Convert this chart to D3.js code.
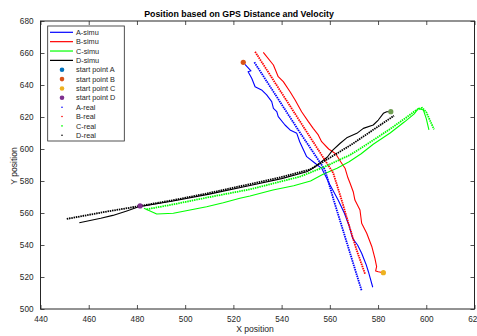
<!DOCTYPE html>
<html>
<head>
<meta charset="utf-8">
<script src="https://cdn.jsdelivr.net/npm/d3@7"></script>
<style>
  body { margin: 0; background: #fff; }
  svg { display: block; font-family: "Liberation Sans", Arial, Helvetica, sans-serif; }
</style>
</head>
<body>
<svg id="chart" width="477" height="336"></svg>
<script>
// simulated tracks (solid lines)
var aSimu = [[524.8,652.9],[527.3,648.9],[526.1,648.3],[527.6,644.2],[529,638.9],[531.7,636.9],[533.8,633.8],[535.9,629.6],[536.6,625.4],[538,623.3],[538.6,620.2],[541.4,615],[543.5,611.9],[546.3,609.8],[547.5,604.5],[550.4,595.2],[553.9,591.1],[556.6,587.9],[558.7,581.7],[560.1,577.5],[563.5,568],[566,560],[568,552],[569.5,544],[571.5,540],[573.2,534.8],[575,528],[576,523.3],[577.8,513.6]];
var bSimu = [[532.4,660.4],[536.6,652.5],[538.6,645.2],[540.7,642.1],[543.5,635.8],[545.6,630.6],[548.3,623.3],[551.1,617.1],[553.1,612.9],[555.2,608.8],[556.6,604.6],[559.5,600],[562.4,597],[564.5,592],[566.3,588],[567.5,582],[568.4,578.6],[569.7,573.3],[570.4,568.1],[572.5,561.9],[573.2,553.6],[575.3,547.3],[577.4,539.1],[578.7,531.7],[579.4,526.5],[579,523.8],[580.1,523.3],[582.2,522.7]];
var cSimu = [[482.9,562.9],[488.2,559.4],[495.1,559.8],[502,561.9],[508.9,563.9],[515.8,566.4],[522.7,569.2],[526.9,570.6],[536.4,574.4],[545,577],[552,580],[557,584],[563,588],[568,592],[573,597],[578,603],[585,610],[591,617],[595,622],[596.7,625.4],[598.8,624.4],[600,619],[601.1,611.9]];
var dSimu = [[456.1,553.9],[465,556.7],[470,558.5],[475.8,561.3],[481,564],[495,567.5],[510,571.8],[526.9,577.2],[540,581.5],[550.4,585.8],[553,588],[556,591.5],[559,595],[561,599],[564.3,603.6],[567,607],[571.2,609.8],[573.9,612.9],[578,615],[580.1,618.1],[582.2,622.3],[583.6,623.3],[585.3,623.3]];

// measured tracks (dotted)
var aReal = [[528.7,654.2],[546.9,611.9],[558,586.9],[561.6,568.1],[573.2,511.4]];
var bReal = [[529,660.8],[549.9,611.9],[561.4,585],[564.9,568.1],[567.7,553.6],[571.1,536.9],[574.6,521.9]];
var cReal = [[484,562.3],[495.1,565.4],[508.9,569.6],[526.9,574.8],[547.6,582.7],[558,589],[568.4,596.3],[573.9,601.5],[585,612.5],[592,620],[596,624.5],[598.3,625.8],[600,623],[601.5,618],[603.2,612.3]];
var dReal = [[450.9,556.3],[466,560.5],[481.3,564.4],[495,568],[510,572.5],[526.9,578.1],[540,582.5],[551.8,587.2],[560,594.5],[569.1,602.9],[586.6,620.8]];

// start point markers as they appear in the plot
var startPoints = [
  {x: 585.3, y: 623.3, color: "#6f9e52"},
  {x: 524.1, y: 654.2, color: "#D95319"},
  {x: 582.2, y: 522.7, color: "#EDB120"},
  {x: 481.3, y: 564.4, color: "#7E2F8E"}
];

var xTicks = [440, 460, 480, 500, 520, 540, 560, 580, 600, 620];
var yTicks = [500, 520, 540, 560, 580, 600, 620, 640, 660, 680];

var legendItems = [
  {label: "A-simu", type: "line", color: "#0000ff"},
  {label: "B-simu", type: "line", color: "#ff0000"},
  {label: "C-simu", type: "line", color: "#00ff00"},
  {label: "D-simu", type: "line", color: "#000000"},
  {label: "start point A", type: "point", color: "#0072BD"},
  {label: "start point B", type: "point", color: "#D95319"},
  {label: "start point C", type: "point", color: "#EDB120"},
  {label: "start point D", type: "point", color: "#7E2F8E"},
  {label: "A-real", type: "dot", color: "#0000ff"},
  {label: "B-real", type: "dot", color: "#ff0000"},
  {label: "C-real", type: "dot", color: "#00ff00"},
  {label: "D-real", type: "dot", color: "#000000"}
];

(function () {
  "use strict";
  var svg = d3.select("#chart");
  var left = 40.5, right = 474.5, top = 21, bottom = 309;
  var axisColor = "#262626";

  var x = d3.scaleLinear().domain([440, 620]).range([left, right]);
  var y = d3.scaleLinear().domain([500, 680]).range([bottom, top]);

  svg.append("defs").append("clipPath").attr("id", "plotclip")
    .append("rect").attr("x", left).attr("y", top)
    .attr("width", right - left).attr("height", bottom - top);

  var line = d3.line().x(function (d) { return x(d[0]); }).y(function (d) { return y(d[1]); });
  var plot = svg.append("g").attr("clip-path", "url(#plotclip)");

  // simu lines
  [[aSimu, "#0000ff"], [bSimu, "#ff0000"], [cSimu, "#00ff00"], [dSimu, "#000000"]].forEach(function (s) {
    plot.append("path").datum(s[0]).attr("d", line)
      .attr("fill", "none").attr("stroke", s[1]).attr("stroke-width", 1.1)
      .attr("stroke-linejoin", "round");
  });

  // real tracks, drawn densely dotted
  [[aReal, "#0000ff"], [bReal, "#ff0000"], [cReal, "#00ff00"], [dReal, "#000000"]].forEach(function (s) {
    plot.append("path").datum(s[0]).attr("d", line)
      .attr("fill", "none").attr("stroke", s[1]).attr("stroke-width", 1.8)
      .attr("stroke-dasharray", "1.5,0.8");
  });

  plot.selectAll(".start").data(startPoints).enter().append("circle")
    .attr("class", "start")
    .attr("cx", function (d) { return x(d.x); })
    .attr("cy", function (d) { return y(d.y); })
    .attr("r", 2.6)
    .attr("fill", function (d) { return d.color; });

  // axes box with ticks on all four sides
  var xAxisB = d3.axisBottom(x).tickValues(xTicks).tickSize(-4).tickPadding(7);
  var xAxisT = d3.axisTop(x).tickValues(xTicks).tickSize(-4).tickFormat("");
  var yAxisL = d3.axisLeft(y).tickValues(yTicks).tickSize(-4).tickPadding(7);
  var yAxisR = d3.axisRight(y).tickValues(yTicks).tickSize(-4).tickFormat("");

  function style(g) {
    g.select(".domain").remove();
    g.selectAll("line").attr("stroke", axisColor).attr("stroke-width", 0.8);
    g.selectAll("text").attr("fill", axisColor).style("font-size", "8.2px")
      .style("font-family", "'Liberation Sans', Arial, sans-serif");
  }
  svg.append("g").attr("transform", "translate(0," + bottom + ")").call(xAxisB).call(style);
  svg.append("g").attr("transform", "translate(0," + top + ")").call(xAxisT).call(style);
  svg.append("g").attr("transform", "translate(" + left + ",0)").call(yAxisL).call(style);
  svg.append("g").attr("transform", "translate(" + right + ",0)").call(yAxisR).call(style);

  svg.append("rect").attr("x", left).attr("y", top)
    .attr("width", right - left).attr("height", bottom - top)
    .attr("fill", "none").attr("stroke", axisColor).attr("stroke-width", 1);

  // titles
  svg.append("text").attr("x", 239).attr("y", 17).attr("text-anchor", "middle")
    .style("font-size", "8.8px").style("font-weight", "bold").attr("fill", "#000")
    .text("Position based on GPS Distance and Velocity");
  svg.append("text").attr("x", 255).attr("y", 332).attr("text-anchor", "middle")
    .style("font-size", "8.6px").attr("fill", axisColor).text("X position");
  svg.append("text").attr("transform", "translate(17,166) rotate(-90)").attr("text-anchor", "middle")
    .style("font-size", "8.6px").attr("fill", axisColor).text("Y position");

  // legend
  var lg = svg.append("g");
  lg.append("rect").attr("x", 47.7).attr("y", 26).attr("width", 76.6).attr("height", 115)
    .attr("fill", "#fff").attr("stroke", axisColor).attr("stroke-width", 0.8);
  var rows = lg.selectAll(".item").data(legendItems).enter().append("g")
    .attr("transform", function (d, i) { return "translate(0," + (32.3 + i * 9.36) + ")"; });
  rows.filter(function (d) { return d.type === "line"; }).append("line")
    .attr("x1", 50).attr("x2", 73).attr("y1", 0).attr("y2", 0)
    .attr("stroke", function (d) { return d.color; }).attr("stroke-width", 1.2);
  rows.filter(function (d) { return d.type === "point"; }).append("circle")
    .attr("cx", 62).attr("cy", 0).attr("r", 2.3)
    .attr("fill", function (d) { return d.color; });
  rows.filter(function (d) { return d.type === "dot"; }).append("circle")
    .attr("cx", 62).attr("cy", 0).attr("r", 0.8)
    .attr("fill", function (d) { return d.color; });
  rows.append("text").attr("x", 76).attr("y", 2.6)
    .style("font-size", "7.3px").attr("fill", axisColor)
    .text(function (d) { return d.label; });
}());
</script>
</body>
</html>
